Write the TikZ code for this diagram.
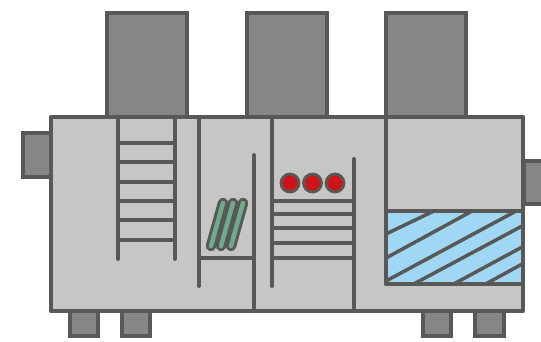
\documentclass[tikz,border=0pt]{standalone}
\usepackage{xcolor}
\usepackage{tikz}
\definecolor{edge}{RGB}{88,88,86}
\definecolor{casing}{RGB}{198,198,196}
\definecolor{duct}{RGB}{134,134,134}
\definecolor{water}{RGB}{160,215,245}
\definecolor{coil}{RGB}{110,170,140}
\definecolor{heater}{RGB}{205,20,25}
\begin{document}
\begin{tikzpicture}[
      x=1pt,y=-1pt,
      part/.style={draw=edge,line width=4.5pt,fill=duct},
      shell/.style={draw=edge,line width=4.5pt,line join=round},
      wall/.style={draw=edge,line width=4pt,line cap=round},
      rung/.style={draw=edge,line width=4pt},
      hatch/.style={draw=edge,line width=3.5pt},
      tube/.style={draw=edge,line width=10.5pt,line cap=round},
      core/.style={draw=coil,line width=4.5pt,line cap=round},
      lamp/.style={circle,draw=edge,line width=2.8pt,fill=heater,minimum size=18pt,inner sep=0pt}]
      \clip (0,0) rectangle (541,342);
      \fill[white] (0,0) rectangle (541,342);
      \path[part] (107,13) rectangle (187,117);
      \path[part] (247,13) rectangle (327,117);
      \path[part] (386,13) rectangle (466,117);
      \path[part] (23,133) rectangle (51,177);
      \path[part] (524,161) rectangle (547,204);
      \path[part] (70,311) rectangle (98,336);
      \path[part] (122,311) rectangle (150,336);
      \path[part] (423,311) rectangle (451,336);
      \path[part] (475,311) rectangle (504,336);
      \fill[casing] (51,117) rectangle (523,311);
      % tank
      \fill[water] (386,211) rectangle (522,284);
      \begin{scope}
        \clip (386,211) rectangle (522,284);
        \draw[hatch] (386,234) -- (436,210); \draw[hatch] (386,258) -- (474,210);
        \draw[hatch] (386,281) -- (518,210); \draw[hatch] (410,286) -- (524,225);
        \draw[hatch] (450,286) -- (524,246); \draw[hatch] (482,286) -- (524,263);
      \end{scope}
      \draw[shell] (386,117) -- (386,284) -- (522,284);
      \draw[shell] (386,211) -- (523,211);
      \draw[shell] (51,117) rectangle (523,311);
      % first ladder
      \draw[wall] (118,117) -- (118,259); \draw[wall] (175,117) -- (175,259);
      \draw[rung] (118,143) -- (175,143); \draw[rung] (118,162) -- (175,162);
      \draw[rung] (118,182) -- (175,182); \draw[rung] (118,201) -- (175,201);
      \draw[rung] (118,220) -- (175,220); \draw[rung] (118,240) -- (175,240);
      % coil bay
      \draw[wall] (199,117) -- (199,286); \draw[wall] (254,155) -- (254,311);
      \draw[rung] (199,258) -- (254,258);
      \draw[tube] (211,246) -- (223,203); \draw[tube] (221,246) -- (233,203); \draw[tube] (231,246) -- (243,203);
      \draw[core] (211,246) -- (223,203); \draw[core] (221,246) -- (233,203); \draw[core] (231,246) -- (243,203);
      % heater bay
      \draw[wall] (272,117) -- (272,286); \draw[wall] (354,159) -- (354,311);
      \draw[rung] (272,201) -- (354,201); \draw[rung] (272,214) -- (354,214);
      \draw[rung] (272,228) -- (354,228); \draw[rung] (272,243) -- (354,243);
      \draw[rung] (272,258) -- (354,258);
      \node[lamp] (lamp1) at (290,183) {};
      \node[lamp] (lamp2) at (312.5,183) {};
      \node[lamp] (lamp3) at (335,183) {};
    \end{tikzpicture}
\end{document}
